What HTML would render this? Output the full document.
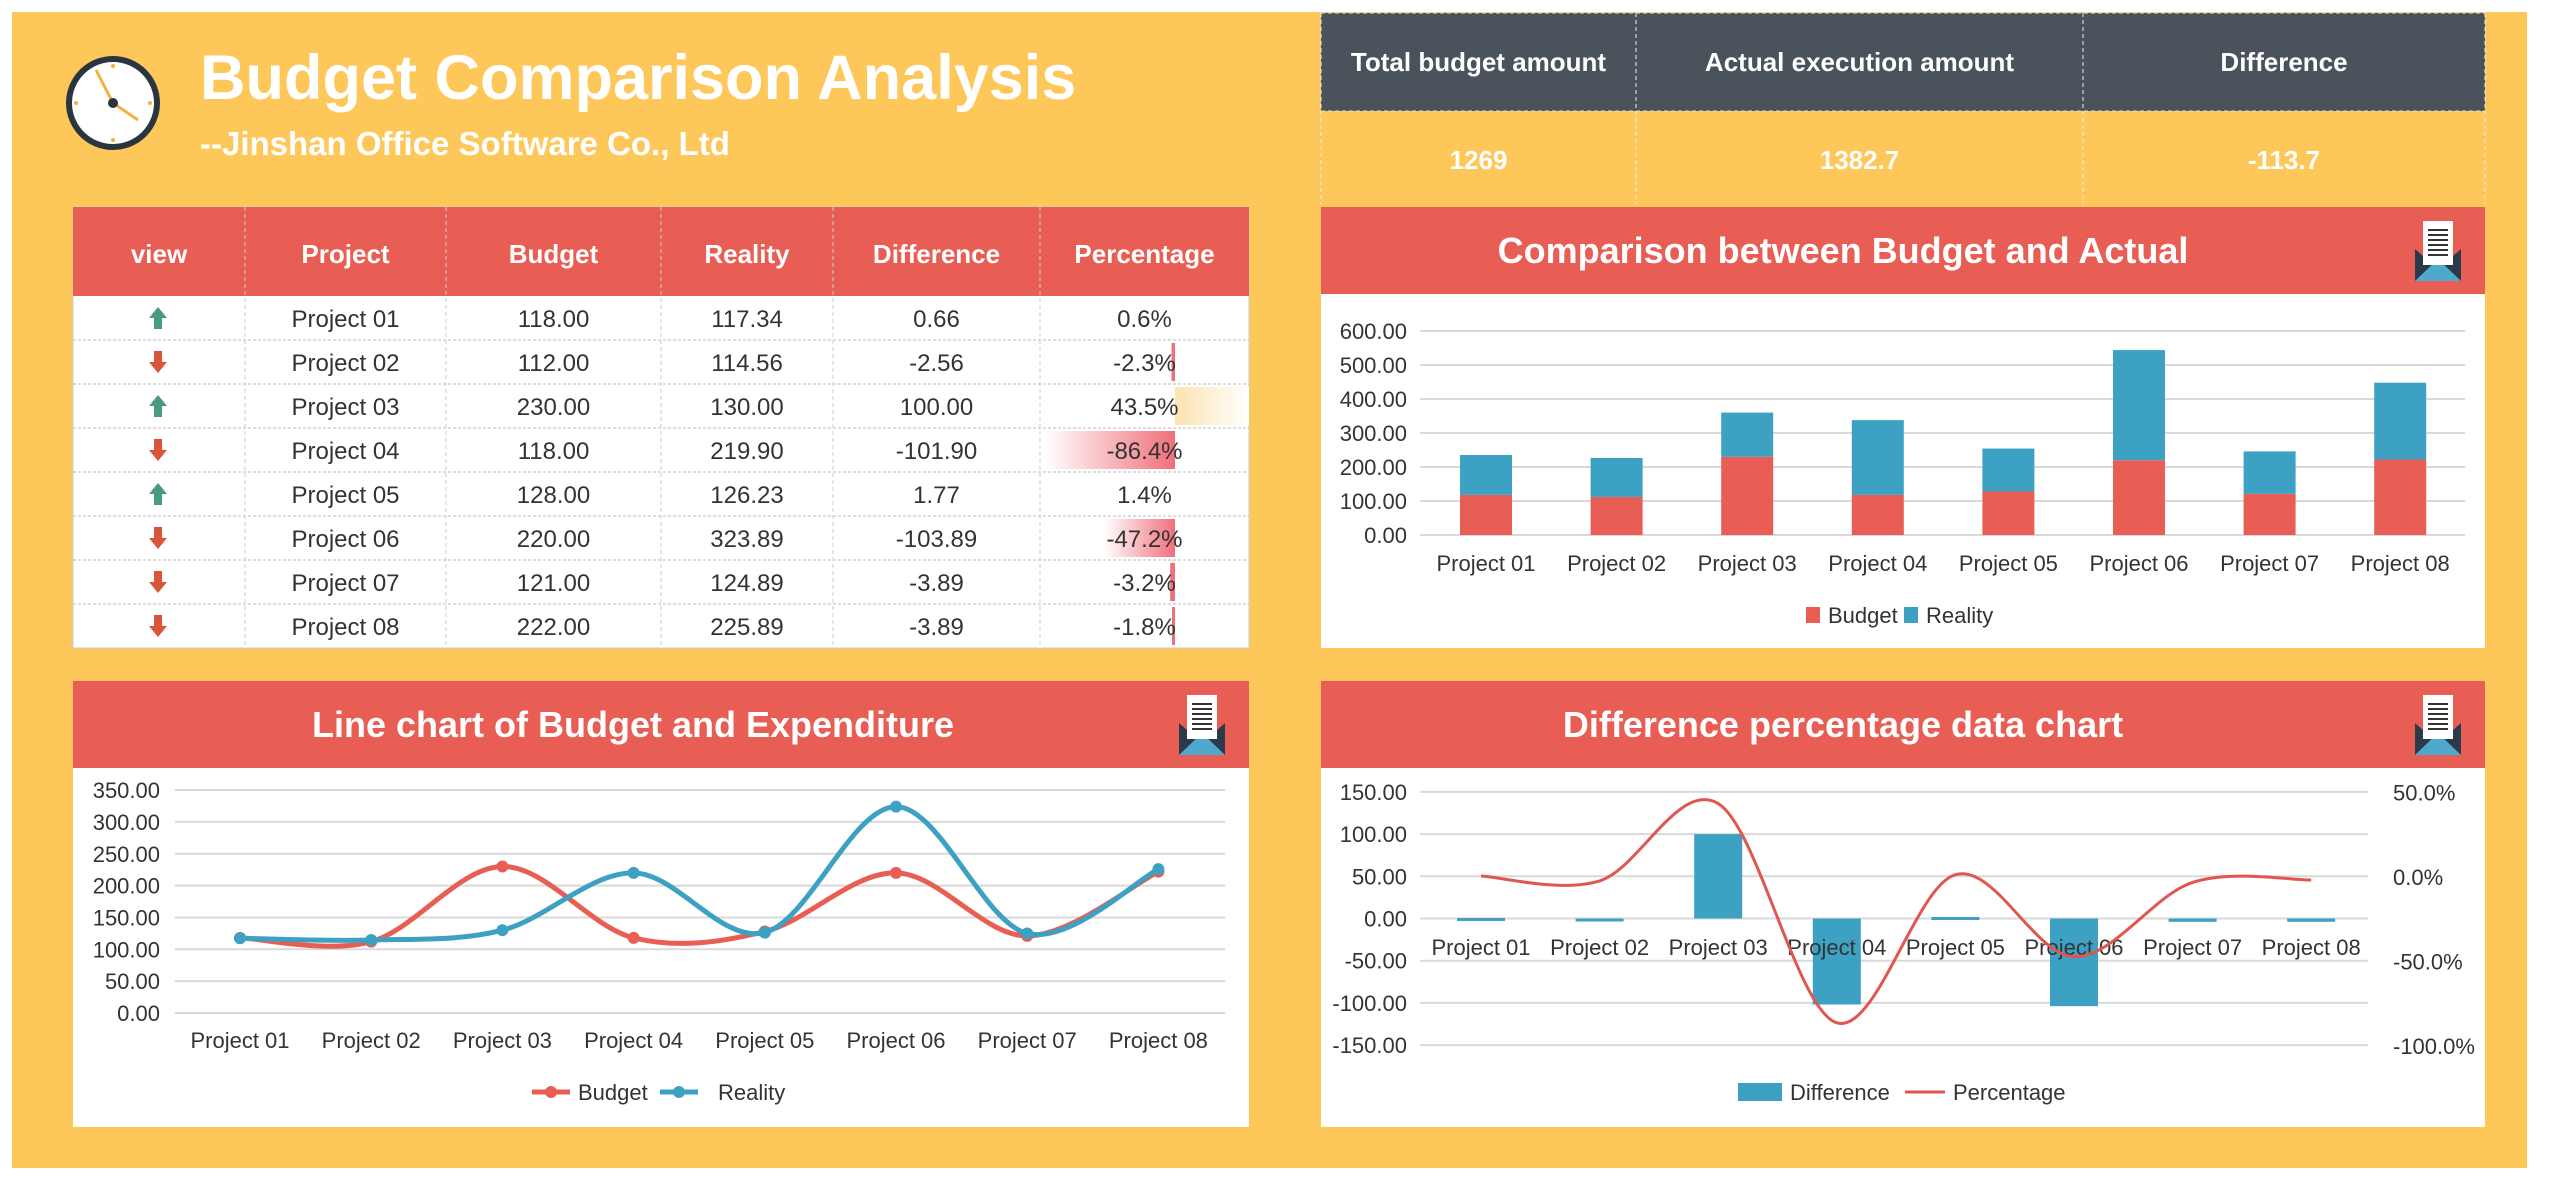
<!DOCTYPE html>
<html><head><meta charset="utf-8">
<style>
html,body{margin:0;padding:0;background:#fff;}
body{width:2560px;height:1181px;overflow:hidden;font-family:"Liberation Sans",Arial,sans-serif;}
svg text{font-family:"Liberation Sans",Arial,sans-serif;}
</style></head>
<body>
<svg id="s" width="2560" height="1181" viewBox="0 0 2560 1181" xmlns="http://www.w3.org/2000/svg">
<rect x="0" y="0" width="2560" height="1181" fill="#fff"/>
<rect x="12" y="12" width="2515" height="1156" fill="#FDC75A"/>
<circle cx="113" cy="103" r="44" fill="#fff" stroke="#2B3540" stroke-width="6"/>
<line x1="113" y1="103" x2="96" y2="70" stroke="#F2B33D" stroke-width="3"/>
<line x1="113" y1="103" x2="138" y2="120" stroke="#F2B33D" stroke-width="3"/>
<circle cx="113" cy="103" r="5" fill="#2B3540"/>
<g fill="#F2B33D"><circle cx="113" cy="66" r="2"/><circle cx="113" cy="140" r="2"/><circle cx="76" cy="103" r="2"/><circle cx="150" cy="103" r="2"/></g>
<text x="200" y="99" font-size="63" font-weight="bold" fill="#fff">Budget Comparison Analysis</text>
<text x="200" y="155" font-size="33" font-weight="bold" fill="#fff">--Jinshan Office Software Co., Ltd</text>
<g id="table"></g>
<g id="summary"></g>
<g id="c1"></g><g id="c2"></g><g id="c3"></g>
<defs>
<linearGradient id="gneg" x1="0" x2="1" y1="0" y2="0"><stop offset="0" stop-color="#fff"/><stop offset="1" stop-color="#F0707A"/></linearGradient>
<linearGradient id="gpos" x1="0" x2="1" y1="0" y2="0"><stop offset="0" stop-color="#FCE3B0"/><stop offset="1" stop-color="#fff"/></linearGradient>
</defs>
</svg>
<script>
const NS="http://www.w3.org/2000/svg";
function el(p,tag,a,txt){const e=document.createElementNS(NS,tag);for(const k in a)e.setAttribute(k,a[k]);if(txt!==undefined)e.textContent=txt;p.appendChild(e);return e;}
const RED="#E85E55",BLUE="#3DA1C4",TXT="#333";
const names=["Project 01","Project 02","Project 03","Project 04","Project 05","Project 06","Project 07","Project 08"];
const bud=[118,112,230,118,128,220,121,222];
const rea=[117.34,114.56,130,219.9,126.23,323.89,124.89,225.89];
const dif=[0.66,-2.56,100,-101.9,1.77,-103.89,-3.89,-3.89];
const pct=[0.6,-2.3,43.5,-86.4,1.4,-47.2,-3.2,-1.8];
const T=document.getElementById("table");
const cx=[73,245,446,661,833,1040,1249];
el(T,"rect",{x:73,y:207,width:1176,height:441,fill:"#fff",stroke:"#ccc"});
el(T,"rect",{x:73,y:207,width:1176,height:89,fill:RED});
const heads=["view","Project","Budget","Reality","Difference","Percentage"];
for(let i=0;i<6;i++){el(T,"text",{x:(cx[i]+cx[i+1])/2,y:263,"font-size":26,"font-weight":"bold",fill:"#fff","text-anchor":"middle"},heads[i]);}
const rh=44.0;
for(let r=0;r<8;r++){
 const y0=296+r*rh, ym=y0+rh/2;
 const p=pct[r];
 if(p<0){const w=Math.max(3,Math.abs(p)/86.4*130);el(T,"rect",{x:1175-w,y:y0+3,width:w,height:rh-6,fill:w>5?"url(#gneg)":"#F0707A"});}
 else if(p>5){el(T,"rect",{x:1175,y:y0+3,width:74,height:rh-6,fill:"url(#gpos)"});}
 const vals=[names[r],bud[r].toFixed(2),rea[r].toFixed(2),dif[r].toFixed(2),p.toFixed(1)+"%"];
 for(let i=0;i<5;i++)el(T,"text",{x:(cx[i+1]+cx[i+2])/2,y:ym+9,"font-size":24,fill:TXT,"text-anchor":"middle"},vals[i]);
 const up=dif[r]>0, c=up?"#4A9A7F":"#D9553A", ax=158;
 if(up)el(T,"path",{d:`M${ax} ${ym-11} L${ax+9} ${ym} L${ax+4} ${ym} L${ax+4} ${ym+11} L${ax-4} ${ym+11} L${ax-4} ${ym} L${ax-9} ${ym} Z`,fill:c});
 else el(T,"path",{d:`M${ax} ${ym+11} L${ax+9} ${ym} L${ax+4} ${ym} L${ax+4} ${ym-11} L${ax-4} ${ym-11} L${ax-4} ${ym} L${ax-9} ${ym} Z`,fill:c});
 if(r>0)el(T,"line",{x1:73,x2:1249,y1:y0,y2:y0,stroke:"#bbb","stroke-dasharray":"3,2"});
}
for(let i=1;i<6;i++)el(T,"line",{x1:cx[i],x2:cx[i],y1:207,y2:648,stroke:"#ccc","stroke-dasharray":"4,3"});
const S=document.getElementById("summary");
const sx=[1321,1636,2083,2485];
el(S,"rect",{x:1321,y:13,width:1164,height:98,fill:"#4A535C"});
const sh=["Total budget amount","Actual execution amount","Difference"],sv=["1269","1382.7","-113.7"];
for(let i=0;i<3;i++){el(S,"text",{x:(sx[i]+sx[i+1])/2,y:71,"font-size":26,"font-weight":"bold",fill:"#fff","text-anchor":"middle"},sh[i]);
 el(S,"text",{x:(sx[i]+sx[i+1])/2,y:169,"font-size":26,"font-weight":"bold",fill:"#fff","text-anchor":"middle"},sv[i]);}
for(let i=0;i<4;i++)el(S,"line",{x1:sx[i],x2:sx[i],y1:13,y2:204,stroke:"#eee","stroke-dasharray":"4,3"});
el(S,"line",{x1:1321,x2:2485,y1:13,y2:13,stroke:"#eee","stroke-dasharray":"4,3"});
el(S,"line",{x1:1321,x2:2485,y1:111,y2:111,stroke:"#ddd","stroke-dasharray":"4,3"});
function panel(g,x,y,w,h,title,off){
 el(g,"rect",{x:x,y:y,width:w,height:h,fill:"#fff"});
 el(g,"rect",{x:x,y:y,width:w,height:87,fill:RED});
 el(g,"text",{x:x+w/2+off,y:y+56,"font-size":36,"font-weight":"bold",fill:"#fff","text-anchor":"middle"},title);
 const ix=x+w-70, iy=y+14;
 el(g,"path",{d:`M${ix} ${iy+28} L${ix+23} ${iy+48} L${ix+46} ${iy+28} L${ix+46} ${iy+60} L${ix} ${iy+60} Z`,fill:"#2B3A4A"});
 el(g,"path",{d:`M${ix} ${iy+60} L${ix+23} ${iy+38} L${ix+46} ${iy+60} Z`,fill:"#4FA9CC"});
 el(g,"rect",{x:ix+8,y:iy,width:30,height:44,fill:"#fff"});
 for(let k=0;k<6;k++)el(g,"rect",{x:ix+13,y:iy+8+k*5,width:20,height:2,fill:"#333"});
}
function smooth(pts){let d=`M${pts[0][0]} ${pts[0][1]}`;for(let i=0;i<pts.length-1;i++){const p0=pts[Math.max(0,i-1)],p1=pts[i],p2=pts[i+1],p3=pts[Math.min(pts.length-1,i+2)];const t=6;
 d+=` C${p1[0]+(p2[0]-p0[0])/t} ${p1[1]+(p2[1]-p0[1])/t} ${p2[0]-(p3[0]-p1[0])/t} ${p2[1]-(p3[1]-p1[1])/t} ${p2[0]} ${p2[1]}`;}return d;}
const C1=document.getElementById("c1");
panel(C1,1321,207,1164,441,"Comparison between Budget and Actual",-60);
const y1=v=>535-v*0.34;
for(let v=0;v<=600;v+=100){el(C1,"line",{x1:1420,x2:2465,y1:y1(v),y2:y1(v),stroke:"#d9d9d9","stroke-width":2});
 el(C1,"text",{x:1407,y:y1(v)+8,"font-size":22,fill:TXT,"text-anchor":"end"},v.toFixed(2));}
for(let i=0;i<8;i++){const c=1486+i*130.6;
 el(C1,"rect",{x:c-26,y:y1(bud[i]),width:52,height:bud[i]*0.34,fill:RED});
 el(C1,"rect",{x:c-26,y:y1(bud[i]+rea[i]),width:52,height:rea[i]*0.34,fill:BLUE});
 el(C1,"text",{x:c,y:571,"font-size":22,fill:TXT,"text-anchor":"middle"},names[i]);}
el(C1,"rect",{x:1806,y:607,width:14,height:16,fill:RED});
el(C1,"text",{x:1828,y:623,"font-size":22,fill:TXT},"Budget");
el(C1,"rect",{x:1904,y:607,width:14,height:16,fill:BLUE});
el(C1,"text",{x:1926,y:623,"font-size":22,fill:TXT},"Reality");
const C2=document.getElementById("c2");
panel(C2,73,681,1176,446,"Line chart of Budget and Expenditure",-28);
const y2=v=>1013-v*0.637;
for(let v=0;v<=350;v+=50){el(C2,"line",{x1:175,x2:1225,y1:y2(v),y2:y2(v),stroke:"#d9d9d9","stroke-width":2});
 el(C2,"text",{x:160,y:y2(v)+8,"font-size":22,fill:TXT,"text-anchor":"end"},v.toFixed(2));}
const px2=i=>240+i*131.2;
for(let i=0;i<8;i++)el(C2,"text",{x:px2(i),y:1048,"font-size":22,fill:TXT,"text-anchor":"middle"},names[i]);
[[bud,RED],[rea,BLUE]].forEach(([d,c])=>{const pts=d.map((v,i)=>[px2(i),y2(v)]);
 el(C2,"path",{d:smooth(pts),fill:"none",stroke:c,"stroke-width":5});
 pts.forEach(p=>el(C2,"circle",{cx:p[0],cy:p[1],r:6,fill:c}));});
el(C2,"line",{x1:532,x2:570,y1:1092,y2:1092,stroke:RED,"stroke-width":5});el(C2,"circle",{cx:551,cy:1092,r:6,fill:RED});
el(C2,"text",{x:578,y:1100,"font-size":22,fill:TXT},"Budget");
el(C2,"line",{x1:660,x2:698,y1:1092,y2:1092,stroke:BLUE,"stroke-width":5});el(C2,"circle",{cx:679,cy:1092,r:6,fill:BLUE});
el(C2,"text",{x:718,y:1100,"font-size":22,fill:TXT},"Reality");
const C3=document.getElementById("c3");
panel(C3,1321,681,1164,446,"Difference percentage data chart",-60);
const y3=v=>918.5-v*0.844, yp=p=>877-p*1.688;
for(let v=-150;v<=150;v+=50){el(C3,"line",{x1:1420,x2:2368,y1:y3(v),y2:y3(v),stroke:"#d9d9d9","stroke-width":2});
 el(C3,"text",{x:1407,y:y3(v)+8,"font-size":22,fill:TXT,"text-anchor":"end"},v.toFixed(2));}
for(let p=50;p>=-100;p-=50)el(C3,"text",{x:2393,y:yp(p)+8,"font-size":22,fill:TXT},p.toFixed(1)+"%");
const px3=i=>1481+i*118.6;
for(let i=0;i<8;i++){const v=dif[i];const h=Math.max(3,Math.abs(v)*0.844);
 el(C3,"rect",{x:px3(i)-24,y:v>0?y3(v):y3(0),width:48,height:h,fill:BLUE});}
for(let i=0;i<8;i++)el(C3,"text",{x:px3(i),y:955,"font-size":22,fill:TXT,"text-anchor":"middle"},names[i]);
el(C3,"path",{d:smooth(pct.map((p,i)=>[px3(i),yp(p)])),fill:"none",stroke:"#E0574F","stroke-width":3});
el(C3,"rect",{x:1738,y:1083,width:44,height:18,fill:BLUE});
el(C3,"text",{x:1790,y:1100,"font-size":22,fill:TXT},"Difference");
el(C3,"line",{x1:1905,x2:1945,y1:1092,y2:1092,stroke:"#E0574F","stroke-width":3});
el(C3,"text",{x:1953,y:1100,"font-size":22,fill:TXT},"Percentage");
</script>
</body></html>
